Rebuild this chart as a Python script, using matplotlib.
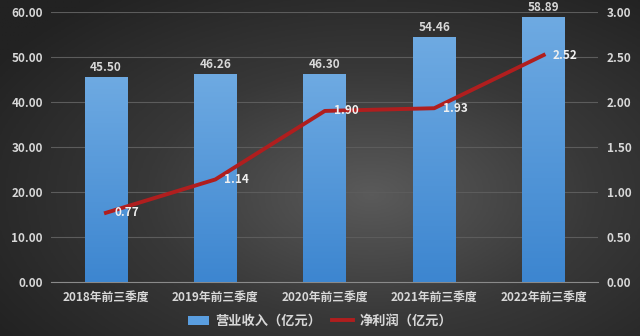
import numpy as np
import matplotlib.pyplot as plt
from matplotlib.lines import Line2D
from matplotlib.patches import Patch

plt.rcParams['font.family'] = ['Noto Sans CJK SC', 'DejaVu Sans']

years = ['2018年前三季度', '2019年前三季度', '2020年前三季度', '2021年前三季度', '2022年前三季度']
revenue = [45.50, 46.26, 46.30, 54.46, 58.89]
profit = [0.77, 1.14, 1.90, 1.93, 2.52]
left_ticks = [0, 10, 20, 30, 40, 50, 60]
right_ticks = [0, 0.5, 1.0, 1.5, 2.0, 2.5, 3.0]

txt = '#d8d8d8'
fig = plt.figure(figsize=(6.4, 3.36), dpi=100)

# radial grey background
bg = fig.add_axes([0, 0, 1, 1], zorder=-10)
yy, xx = np.mgrid[0:1:200j, 0:1:400j]
r = np.sqrt(((xx - 0.58) / 0.7) ** 2 + ((yy - 0.42) / 0.75) ** 2)
bg.imshow(np.clip(r, 0, 1), cmap=plt.matplotlib.colors.LinearSegmentedColormap.from_list(
    'bg', ['#5a5a5a', '#383838', '#222222']), aspect='auto', extent=[0, 1, 0, 1], origin='lower')
bg.axis('off')

ax = fig.add_axes([0.08, 0.16, 0.855, 0.805])
ax.patch.set_alpha(0)
x = np.arange(len(years))
bars = ax.bar(x, revenue, width=0.39, color='#4f93d8', zorder=2)
grad = np.linspace(0, 1, 100).reshape(-1, 1)
cm_bar = plt.matplotlib.colors.LinearSegmentedColormap.from_list('bar', ['#3d86d0', '#6eaae2'])
for b in bars:
    im = ax.imshow(grad, cmap=cm_bar, aspect='auto', origin='lower', zorder=3,
                   extent=[b.get_x(), b.get_x() + b.get_width(), 0, b.get_height()])
    im.set_clip_path(b)
for xi, v in zip(x, revenue):
    ax.text(xi, v + 0.6, f'{v:.2f}', ha='center', va='bottom', color=txt,
            fontsize=8.5, fontweight='bold', zorder=5, clip_on=False)

ax.set_xlim(-0.5, len(years) - 0.5)
ax.set_ylim(0, 60)
ax.set_yticks(left_ticks)
ax.set_yticklabels([f'{t:.2f}' for t in left_ticks])
ax.set_xticks(x)
ax.set_xticklabels(years)
ax.grid(axis='y', color='#5c5c5c', linewidth=0.8, zorder=0)
ax.set_axisbelow(True)
for s in ['top', 'right', 'left']:
    ax.spines[s].set_visible(False)
ax.spines['bottom'].set_color('#8a8a8a')
ax.tick_params(length=0, colors=txt, labelsize=8.5, pad=6)
for lab in ax.get_xticklabels() + ax.get_yticklabels():
    lab.set_fontweight('bold')

ax2 = ax.twinx()
ax2.set_ylim(0, 3)
ax2.set_yticks(right_ticks)
ax2.set_yticklabels([f'{t:.2f}' for t in right_ticks])
for s in ax2.spines.values():
    s.set_visible(False)
ax2.tick_params(length=0, colors=txt, labelsize=8.5, pad=6)
for lab in ax2.get_yticklabels():
    lab.set_fontweight('bold')
ax2.plot(x, profit, color='#b01e1e', linewidth=2.8, zorder=4)
for xi, v in zip(x, profit):
    ax2.text(xi + 0.08, v, f'{v:.2f}', ha='left', va='center', color='#f0f0f0',
             fontsize=8.5, fontweight='bold', zorder=5)

handles = [Patch(facecolor='#5a9ee0'), Line2D([], [], color='#b01e1e', linewidth=2.8)]
leg = fig.legend(handles, ['营业收入（亿元）', '净利润（亿元）'], loc='center',
                 bbox_to_anchor=(0.5, 0.045), ncol=2, frameon=False, fontsize=9.5,
                 handlelength=1.6, columnspacing=0.8, handletextpad=0.5, labelcolor=txt)
for t in leg.get_texts():
    t.set_fontweight('bold')

fig.savefig('out.png', dpi=100)
